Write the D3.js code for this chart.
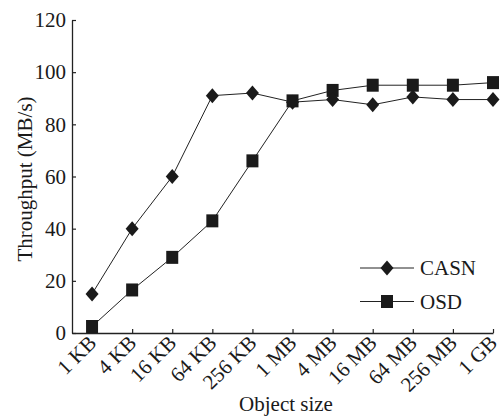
<!DOCTYPE html>
<html>
<head>
<meta charset="utf-8">
<script src="https://cdn.jsdelivr.net/npm/d3@7"></script>
<style>
  body { margin: 0; background: #fff; }
  text { font-family: "Liberation Serif", "DejaVu Serif", serif; fill: #1a1a1a; }
</style>
</head>
<body>
<script>
// categories along the x axis
var sizes = ["1 KB", "4 KB", "16 KB", "64 KB", "256 KB", "1 MB", "4 MB", "16 MB", "64 MB", "256 MB", "1 GB"];
// throughput in MB/s
var casn = [15, 40, 60, 91, 92, 88.5, 89.5, 87.5, 90.5, 89.5, 89.5];
var osd = [2.5, 16.5, 29, 43, 66, 89, 93, 95, 95, 95, 96];
var yTicks = [0, 20, 40, 60, 80, 100, 120];
var seriesNames = ["CASN", "OSD"];

var w = 502, h = 420;
var mLeft = 72, mRight = 493, mTop = 20, mBottom = 333;

var svg = d3.select("body").append("svg")
    .attr("width", w)
    .attr("height", h);

// index scale, half a step of room before the first point
var x = d3.scaleLinear().domain([-0.5, sizes.length - 1]).range([mLeft, mRight]);
var y = d3.scaleLinear().domain([0, 120]).range([mBottom, mTop]);

// x axis (ticks point inward)
var xAxis = d3.axisBottom(x)
    .tickValues(d3.range(sizes.length))
    .tickSizeInner(-4).tickSizeOuter(0)
    .tickFormat(function(i) { return sizes[i]; });
var gx = svg.append("g").attr("transform", "translate(0," + mBottom + ")").call(xAxis);
gx.select(".domain").attr("stroke", "#222").attr("stroke-width", 1.3);
gx.selectAll(".tick line").attr("stroke", "#222").attr("stroke-width", 1.2);
gx.selectAll(".tick text")
    .attr("font-size", 21)
    .attr("text-anchor", "end")
    .attr("fill", "#1a1a1a")
    .attr("dy", null).attr("y", null)
    .attr("transform", "translate(5,11) rotate(-45)");

// y axis
var yAxis = d3.axisLeft(y)
    .tickValues(yTicks)
    .tickSizeInner(-4).tickSizeOuter(0)
    .tickPadding(6);
var gy = svg.append("g").attr("transform", "translate(" + mLeft + ",0)").call(yAxis);
gy.select(".domain").attr("stroke", "#222").attr("stroke-width", 1.3);
gy.selectAll(".tick line").attr("stroke", "#222").attr("stroke-width", 1.2);
gy.selectAll(".tick text").attr("font-size", 21).attr("fill", "#1a1a1a");

// axis titles
svg.append("text")
    .attr("x", 286).attr("y", 411)
    .attr("text-anchor", "middle")
    .attr("font-size", 21)
    .text("Object size");
svg.append("text")
    .attr("transform", "translate(32,179) rotate(-90)")
    .attr("text-anchor", "middle")
    .attr("font-size", 21)
    .text("Throughput (MB/s)");

var line = d3.line()
    .x(function(d, i) { return x(i); })
    .y(function(d) { return y(d); });

var diamond = "M0,-7.5L6.5,0L0,7.5L-6.5,0Z";
var square = "M-6,-6.5H6V6.5H-6Z";

[[osd, square], [casn, diamond]].forEach(function(s) {
  svg.append("path")
      .attr("d", line(s[0]))
      .attr("fill", "none")
      .attr("stroke", "#222")
      .attr("stroke-width", 1);
  svg.selectAll(null)
      .data(s[0])
      .enter()
      .append("path")
      .attr("d", s[1])
      .attr("fill", "#1a1a1a")
      .attr("transform", function(d, i) { return "translate(" + x(i) + "," + y(d) + ")"; });
});

// legend
var shapes = [diamond, square];
var lg = svg.selectAll(".legend")
    .data(seriesNames)
    .enter()
    .append("g")
    .attr("transform", function(d, i) { return "translate(360," + (268 + i * 33.5) + ")"; });
lg.append("line")
    .attr("x1", 0).attr("x2", 54)
    .attr("stroke", "#222").attr("stroke-width", 1);
lg.append("path")
    .attr("d", function(d, i) { return shapes[i]; })
    .attr("transform", "translate(27,0)")
    .attr("fill", "#1a1a1a");
lg.append("text")
    .attr("x", 60).attr("dy", "0.35em")
    .attr("font-size", 21)
    .text(function(d) { return d; });
</script>
</body>
</html>
